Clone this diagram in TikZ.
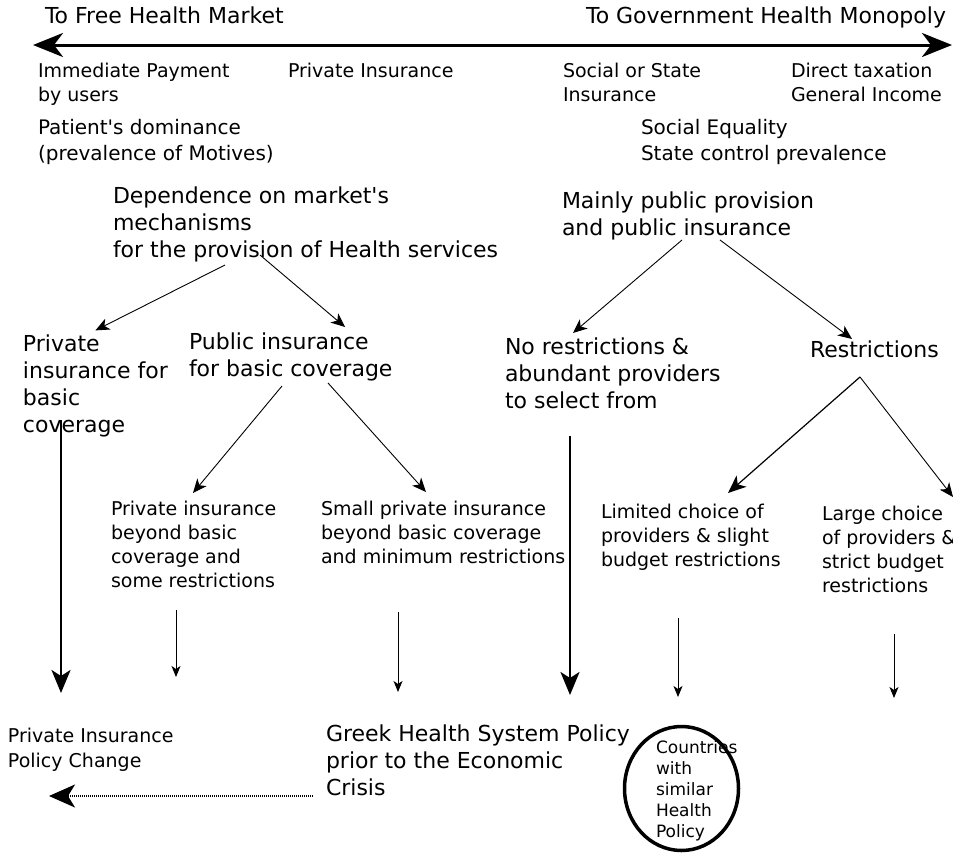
\documentclass[tikz,border=0pt]{standalone}
\usepackage{fontspec}
\setmainfont{DejaVu Sans}
\usetikzlibrary{arrows.meta,shapes.geometric}

\begin{document}
\begin{tikzpicture}[x=1pt,y=-1pt,
  every node/.style={inner sep=0pt,outer sep=0pt,align=left},
  lg/.style={font=\fontsize{22}{27}\selectfont},
  md/.style={font=\fontsize{20}{26}\selectfont},
  sm/.style={font=\fontsize{19}{24}\selectfont},
  xs/.style={font=\fontsize{17}{21}\selectfont},
  axis/.style={{Stealth[length=30pt,width=24pt,inset=9pt]}-{Stealth[length=30pt,width=24pt,inset=9pt]},line width=3pt},
  link/.style={-{Stealth[length=14pt,width=12pt,inset=4pt]},line width=0.9pt},
  linkb/.style={-{Stealth[length=18pt,width=15pt,inset=5pt]},line width=1.2pt},
  down/.style={-{Stealth[length=11pt,width=9pt,inset=3pt]},line width=1pt},
  heavy/.style={-{Stealth[length=23pt,width=19pt,inset=6pt]},line width=2.6pt},
  back/.style={-{Stealth[length=26pt,width=23pt,inset=7pt]},line width=2.2pt,dash pattern=on 1pt off 1pt},
]
\useasboundingbox (0,0) rectangle (953,854);

% the scale between the two extremes
\node[lg,anchor=base west] (free) at (45,23) {To Free Health Market};
\node[lg,anchor=base east] (govt) at (946,23) {To Government Health Monopoly};
\coordinate (axl) at (33,45);
\coordinate (axr) at (952,45);
\draw[axis] (axl) -- (axr);

\node[sm,anchor=north west] (pay) at (38,62.6) {Immediate Payment\\by users};
\node[sm,anchor=base west] (pins) at (288,77) {Private Insurance};
\node[sm,anchor=north west] (social) at (563,62.6) {Social or State\\Insurance};
\node[sm,anchor=north west] (tax) at (791,62.6) {Direct taxation\\General Income};
\node[md,anchor=north west] (patient) at (38,119.2) {Patient\textquotesingle s dominance\\(prevalence of Motives)};
\node[md,anchor=north west] (equality) at (641,119.2) {Social Equality\\State control prevalence};

% the two main branches
\node[lg,anchor=north west] (dep) at (113,186.4) {Dependence on market\textquotesingle s\\mechanisms\\for the provision of Health services};
\node[lg,anchor=north west] (mainly) at (562,191.4) {Mainly public provision\\and public insurance};

\node[lg,anchor=north west] (privbasic) at (23,334.4) {Private\\insurance for\\basic\\coverage};
\node[lg,anchor=north west] (pubbasic) at (189,332.4) {Public insurance\\for basic coverage};
\node[lg,anchor=north west] (norestr) at (505,337.4) {No restrictions \&\\abundant providers\\to select from};
\node[lg,anchor=base west] (restr) at (810,357) {Restrictions};

\node[sm,anchor=north west] (beyond) at (111,500.6) {Private insurance\\beyond basic\\coverage and\\some restrictions};
\node[sm,anchor=north west] (small) at (321,500.6) {Small private insurance\\beyond basic coverage\\and minimum restrictions};
\node[sm,anchor=north west] (limited) at (601,503.6) {Limited choice of\\providers \& slight\\budget restrictions};
\node[sm,anchor=north west] (large) at (822,505.6) {Large choice\\of providers \&\\strict budget\\restrictions};

% bottom row
\node[sm,anchor=north west,font=\fontsize{19}{25}\selectfont] (pichange) at (8,727.6) {Private Insurance\\Policy Change};
\node[lg,anchor=north west] (greek) at (326,724.4) {Greek Health System Policy\\prior to the Economic\\Crisis};
\node[ellipse,draw,line width=3.5pt,minimum width=114,minimum height=124] (circ) at (681.5,788.5) {};
\node[xs,anchor=north west] (countries) at (656,740.4) {Countries\\with\\similar\\Health\\Policy};

% branching arrows
\draw[link] ([xshift=112pt,yshift=-78.6pt]dep.north west) -- ([yshift=4pt]privbasic.north);
\draw[link] ([xshift=147pt,yshift=-68.6pt]dep.north west) -- ([xshift=156pt,yshift=5.4pt]pubbasic.north west);
\draw[link] ([xshift=120pt,yshift=-48.6pt]mainly.north west) -- ([xshift=68pt,yshift=4.4pt]norestr.north west);
\draw[link] ([xshift=158pt,yshift=-48.6pt]mainly.north west) -- ([xshift=42pt,yshift=1.3pt]restr.north west);
\draw[link] ([xshift=93pt,yshift=-53.6pt]pubbasic.north west) -- ([xshift=82pt,yshift=7.6pt]beyond.north west);
\draw[link] ([xshift=139pt,yshift=-50.6pt]pubbasic.north west) -- ([xshift=105pt,yshift=8.6pt]small.north west);
\draw[linkb] ([xshift=50pt,yshift=-36.7pt]restr.north west) -- ([xshift=127pt,yshift=10.6pt]limited.north west);
\draw[link] ([xshift=50pt,yshift=-36.7pt]restr.north west) -- ([xshift=131pt,yshift=8.6pt]large.north west);

% arrows down to the bottom row
\coordinate (e1) at (61,693);
\coordinate (e2) at (176,677);
\coordinate (e3) at (398,692);
\coordinate (e4) at (570,695);
\coordinate (e5) at (678,697);
\coordinate (e6) at (894,698);
\draw[heavy] ([xshift=38pt,yshift=-85.6pt]privbasic.north west) -- (e1);
\draw[down] ([xshift=65pt,yshift=-109.4pt]beyond.north west) -- (e2);
\draw[down] ([xshift=77pt,yshift=-111.4pt]small.north west) -- (e3);
\draw[heavy] ([xshift=65pt,yshift=-98.6pt]norestr.north west) -- (e4);
\draw[down] ([xshift=77pt,yshift=-114.4pt]limited.north west) -- (e5);
\draw[down] ([xshift=72pt,yshift=-128.4pt]large.north west) -- (e6);

\coordinate (pcend) at (49,796);
\draw[back] ([xshift=-13pt,yshift=-71.6pt]greek.north west) -- (pcend);
\end{tikzpicture}
\end{document}
